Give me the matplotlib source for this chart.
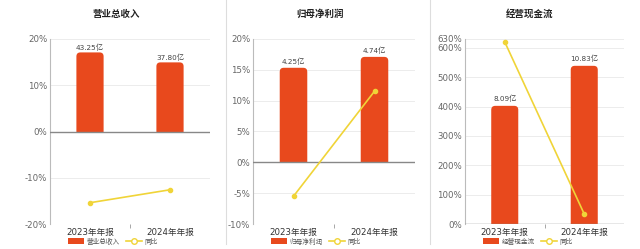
import matplotlib.pyplot as plt
import numpy as np
from matplotlib.lines import Line2D
from matplotlib.patches import Patch, FancyBboxPatch, Rectangle

plt.rcParams['font.family'] = ['DejaVu Sans', 'Noto Sans CJK SC']

# datos
periodos = ['2023年年报', '2024年年报']
titulos = ['营业总收入', '归母净利润', '经营现金流']
valores = [[43.25, 37.80], [4.25, 4.74], [8.09, 10.83]]
etiquetas = [['43.25亿', '37.80亿'], ['4.25亿', '4.74亿'], ['8.09亿', '10.83亿']]
yoy = [[-15.4, -12.6], [-5.5, 11.53], [620.0, 33.87]]
lim_y = [(-20, 20), (-10, 20), (0, 630)]
ticks_y = [[-20, -10, 0, 10, 20], [-10, -5, 0, 5, 10, 15, 20],
           [0, 100, 200, 300, 400, 500, 600, 630]]

color_barra = '#e8491d'
color_linea = '#f0d438'
gris = '#666666'

fig = plt.figure(figsize=(6.4, 2.49), dpi=100)

ejes_pos = [(50, 160), (253, 162), (465, 159)]
centros_tit = [116, 320, 530]
centros_ley = [113, 316, 528]
alto_px = 185

for i in range(3):
    x0, w = ejes_pos[i]
    ax = fig.add_axes([x0 / 640, 25 / 249, w / 640, alto_px / 249])
    ax2 = ax.twinx()

    ymin, ymax = lim_y[i]
    ax.set_ylim(ymin, ymax)
    ax.set_yticks(ticks_y[i])
    ax.set_yticklabels([f'{t}%' for t in ticks_y[i]])
    ax.set_xlim(-0.5, 1.5)
    ax.set_xticks([0, 1])
    ax.set_xticklabels(periodos)
    ax.set_xticks([0.5], minor=True)
    ax.tick_params(axis='y', length=0, labelsize=6.2, colors=gris, pad=2)
    ax.tick_params(axis='x', which='major', length=0, labelsize=6.2, colors='#333333', pad=3)
    ax.tick_params(axis='x', which='minor', length=3, color='#999999')
    for t in ticks_y[i]:
        if t != 0:
            ax.axhline(t, color='#ececec', lw=0.7, zorder=0)
    for s in ['top', 'right', 'bottom']:
        ax.spines[s].set_visible(False)
    ax.spines['left'].set_color('#bbbbbb')
    ax.spines['left'].set_linewidth(0.8)

    # barras en eje secundario, el cero alineado
    tope = max(valores[i]) / 0.855
    y0b = ymin / ymax * tope
    ax2.set_ylim(y0b, tope)
    ax2.set_xlim(-0.5, 1.5)
    barras = ax2.bar([0, 1], valores[i], width=0.34, color=color_barra, zorder=2)
    # esquinas de arriba redondeadas; las de abajo quedan recortadas en el cero
    xpp = 2.0 / w
    ypp = (tope - y0b) / alto_px
    r = 4 * xpp
    for b in barras:
        bx, bw, bh = b.get_x(), b.get_width(), b.get_height()
        b.set_visible(False)
        redondo = FancyBboxPatch((bx, -r * ypp / xpp), bw, bh + r * ypp / xpp,
                                 boxstyle=f'round,pad=0,rounding_size={r}',
                                 mutation_aspect=ypp / xpp, facecolor=color_barra,
                                 edgecolor='none', zorder=2)
        ax2.add_patch(redondo)
        corte = Rectangle((bx - bw, 0), bw * 3, tope * 2, transform=ax2.transData)
        redondo.set_clip_path(corte)
    ax2.axhline(0, color='#888888', lw=1.0, zorder=3)
    for k in range(2):
        ax2.text(k, valores[i][k] + tope * 0.02, etiquetas[i][k], ha='center', va='bottom',
                 fontsize=5.2, color='#444444')
    ax2.set_yticks([])
    for s in ax2.spines.values():
        s.set_visible(False)

    # línea del año contra año, con la escala del eje principal
    ax2.plot([0, 1], yoy[i], color=color_linea, lw=1.2, marker='o', ms=3,
             mfc=color_linea, mec=color_linea, zorder=5, clip_on=False,
             transform=ax.transData)
    ax2.set_ylim(y0b, tope)
    ax2.set_xlim(-0.5, 1.5)

    fig.text(centros_tit[i] / 640, 1 - 14 / 249, titulos[i], ha='center', va='center',
             fontsize=6.8, fontweight='bold', color='#222222')

    handles = [Patch(facecolor=color_barra, edgecolor='none'),
               Line2D([0], [0], color=color_linea, lw=1.2, marker='o', ms=4,
                      mfc='white', mec=color_linea)]
    fig.legend(handles, [titulos[i], '同比'], loc='center',
               bbox_to_anchor=(centros_ley[i] / 640, 1 - 241 / 249), ncol=2,
               frameon=False, fontsize=4.8, handlelength=2.4, handleheight=1.1,
               columnspacing=0.9, handletextpad=0.4, labelcolor='#555555')

# separadores
for xs in [226, 430]:
    fig.add_artist(Line2D([xs / 640, xs / 640], [0.02, 1.0], color='#dddddd', lw=0.8))

fig.savefig('out.png', dpi=100, facecolor='white')
